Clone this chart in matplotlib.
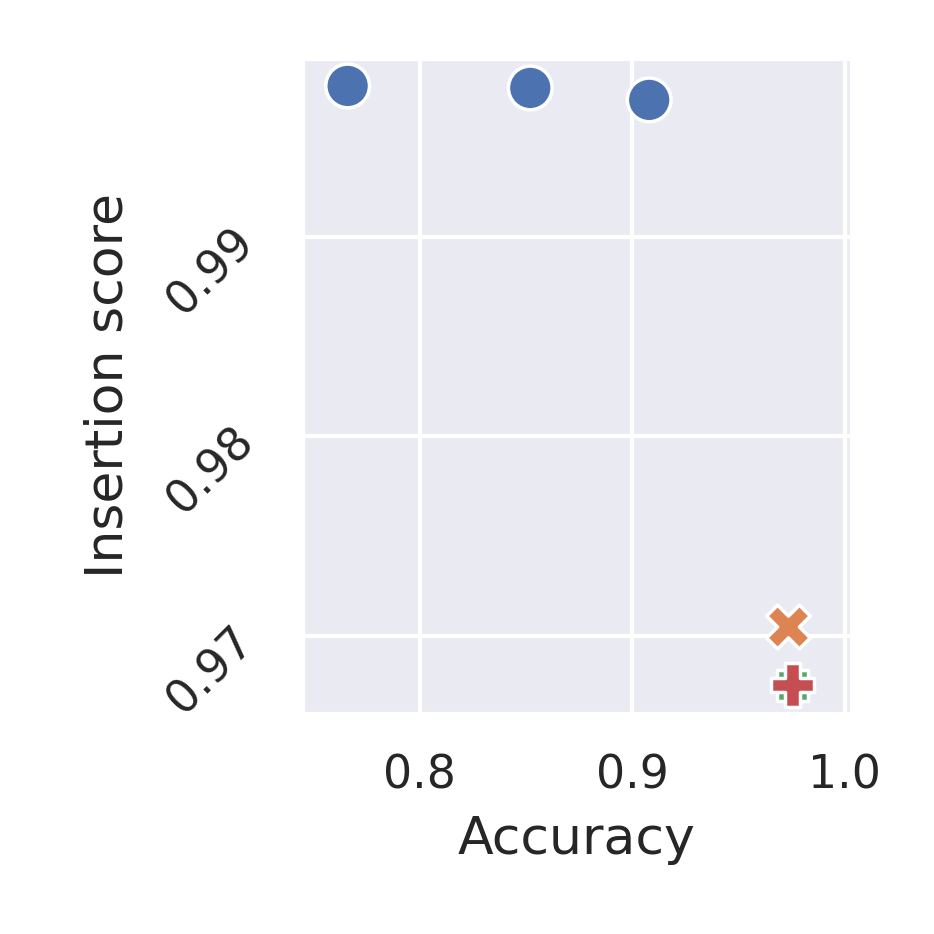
import matplotlib
matplotlib.use('Agg')
import matplotlib.pyplot as plt
import seaborn as sns
import pandas as pd

sns.set_theme()

# values
methods = ['A', 'A', 'A', 'B', 'C', 'D']
accuracy = [0.766, 0.852, 0.908, 0.9736, 0.9755, 0.9755]
insertion = [0.99757, 0.99747, 0.99687, 0.97045, 0.96754, 0.96754]

df = pd.DataFrame({'Method': methods, 'Accuracy': accuracy, 'Insertion score': insertion})

fig = plt.figure(figsize=(934 / 300, 934 / 300), dpi=300)
ax = fig.add_subplot(111)
sns.scatterplot(data=df, x='Accuracy', y='Insertion score', hue='Method', style='Method',
                s=110, legend=False, ax=ax)
ax.set_xlim(0.7445, 1.0035)
ax.set_ylim(0.96609, 0.99897)
ax.set_xticks([0.8, 0.9, 1.0])
ax.set_yticks([0.97, 0.98, 0.99])
ax.set_xlabel('Accuracy', fontsize=12.5)
ax.set_ylabel('Insertion score', fontsize=12.5, labelpad=6)
plt.yticks(rotation=45)
fig.subplots_adjust(left=302 / 934, right=852 / 934, top=1 - 58 / 934, bottom=1 - 714 / 934)
fig.savefig('out.png', dpi=300)
